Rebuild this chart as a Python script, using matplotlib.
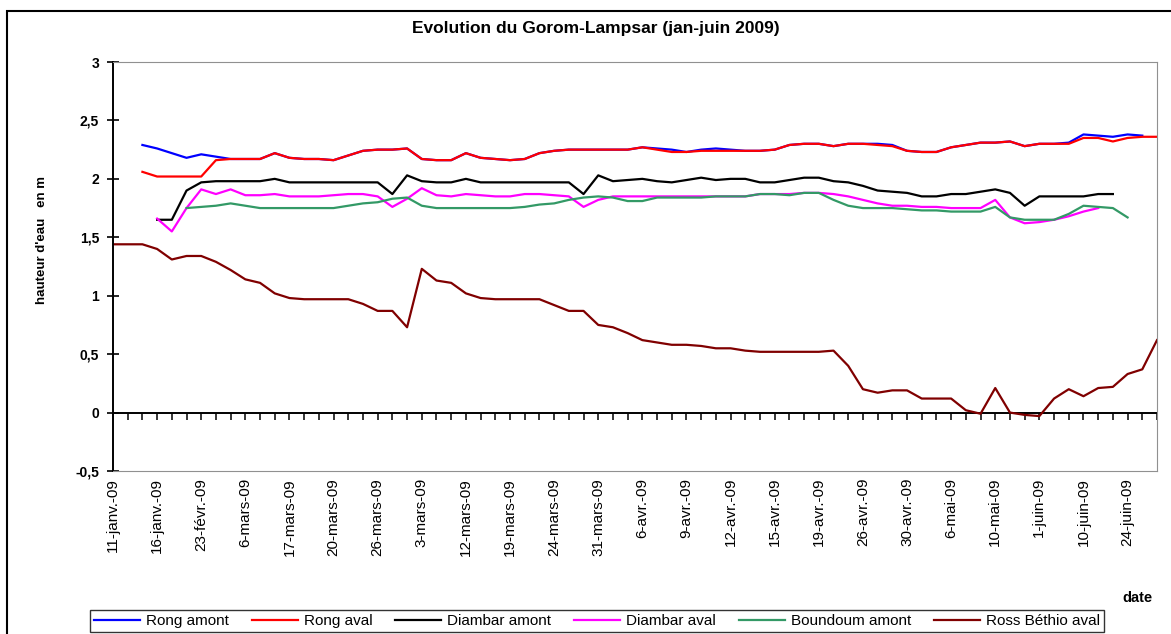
import numpy as np
import matplotlib
matplotlib.use("Agg")
import matplotlib.pyplot as plt
from matplotlib.patches import Rectangle

plt.rcParams['font.family'] = ['Liberation Sans', 'DejaVu Sans']

# dates en abscisse (une etiquette sur trois categories)
tick_labels = ['11-janv.-09', '16-janv.-09', '23-févr.-09', '6-mars-09', '17-mars-09',
               '20-mars-09', '26-mars-09', '3-mars-09', '12-mars-09', '19-mars-09',
               '24-mars-09', '31-mars-09', '6-avr.-09', '9-avr.-09', '12-avr.-09',
               '15-avr.-09', '19-avr.-09', '26-avr.-09', '30-avr.-09', '6-mai-09',
               '10-mai-09', '1-juin-09', '10-juin-09', '24-juin-09']
n_obs = 72

N = None
rong_amont = [N, N, 2.29, 2.26, 2.22, 2.18, 2.21, 2.19, 2.17, 2.17,
              2.17, 2.22, 2.18, 2.17, 2.17, 2.16, 2.20, 2.24, 2.25, 2.25,
              2.26, 2.17, 2.16, 2.16, 2.22, 2.18, 2.17, 2.16, 2.17, 2.22,
              2.24, 2.25, 2.25, 2.25, 2.25, 2.25, 2.27, 2.26, 2.25, 2.23,
              2.25, 2.26, 2.25, 2.24, 2.24, 2.25, 2.29, 2.30, 2.30, 2.28,
              2.30, 2.30, 2.30, 2.29, 2.24, 2.23, 2.23, 2.27, 2.29, 2.31,
              2.31, 2.32, 2.28, 2.30, 2.30, 2.31, 2.38, 2.37, 2.36, 2.38,
              2.37, N]
rong_aval = [N, N, 2.06, 2.02, 2.02, 2.02, 2.02, 2.16, 2.17, 2.17,
             2.17, 2.22, 2.18, 2.17, 2.17, 2.16, 2.20, 2.24, 2.25, 2.25,
             2.26, 2.17, 2.16, 2.16, 2.22, 2.18, 2.17, 2.16, 2.17, 2.22,
             2.24, 2.25, 2.25, 2.25, 2.25, 2.25, 2.27, 2.25, 2.23, 2.23,
             2.24, 2.24, 2.24, 2.24, 2.24, 2.25, 2.29, 2.30, 2.30, 2.28,
             2.30, 2.30, 2.29, 2.28, 2.24, 2.23, 2.23, 2.27, 2.29, 2.31,
             2.31, 2.32, 2.28, 2.30, 2.30, 2.30, 2.35, 2.35, 2.32, 2.35,
             2.36, 2.36]
diambar_amont = [N, N, N, 1.65, 1.65, 1.90, 1.97, 1.98, 1.98, 1.98,
                 1.98, 2.00, 1.97, 1.97, 1.97, 1.97, 1.97, 1.97, 1.97, 1.87,
                 2.03, 1.98, 1.97, 1.97, 2.00, 1.97, 1.97, 1.97, 1.97, 1.97,
                 1.97, 1.97, 1.87, 2.03, 1.98, 1.99, 2.00, 1.98, 1.97, 1.99,
                 2.01, 1.99, 2.00, 2.00, 1.97, 1.97, 1.99, 2.01, 2.01, 1.98,
                 1.97, 1.94, 1.90, 1.89, 1.88, 1.85, 1.85, 1.87, 1.87, 1.89,
                 1.91, 1.88, 1.77, 1.85, 1.85, 1.85, 1.85, 1.87, 1.87, N,
                 N, N]
diambar_aval = [N, N, N, 1.66, 1.55, 1.75, 1.91, 1.87, 1.91, 1.86,
                1.86, 1.87, 1.85, 1.85, 1.85, 1.86, 1.87, 1.87, 1.85, 1.76,
                1.83, 1.92, 1.86, 1.85, 1.87, 1.86, 1.85, 1.85, 1.87, 1.87,
                1.86, 1.85, 1.76, 1.82, 1.85, 1.85, 1.85, 1.85, 1.85, 1.85,
                1.85, 1.85, 1.85, 1.85, 1.87, 1.87, 1.87, 1.88, 1.88, 1.87,
                1.85, 1.82, 1.79, 1.77, 1.77, 1.76, 1.76, 1.75, 1.75, 1.75,
                1.82, 1.67, 1.62, 1.63, 1.65, 1.68, 1.72, 1.75, N, N,
                N, N]
boundoum_amont = [N, N, N, N, N, 1.75, 1.76, 1.77, 1.79, 1.77,
                  1.75, 1.75, 1.75, 1.75, 1.75, 1.75, 1.77, 1.79, 1.80, 1.83,
                  1.84, 1.77, 1.75, 1.75, 1.75, 1.75, 1.75, 1.75, 1.76, 1.78,
                  1.79, 1.82, 1.84, 1.85, 1.84, 1.81, 1.81, 1.84, 1.84, 1.84,
                  1.84, 1.85, 1.85, 1.85, 1.87, 1.87, 1.86, 1.88, 1.88, 1.82,
                  1.77, 1.75, 1.75, 1.75, 1.74, 1.73, 1.73, 1.72, 1.72, 1.72,
                  1.76, 1.67, 1.65, 1.65, 1.65, 1.70, 1.77, 1.76, 1.75, 1.67,
                  N, N]
ross_bethio_aval = [1.44, 1.44, 1.44, 1.40, 1.31, 1.34, 1.34, 1.29, 1.22, 1.14,
                    1.11, 1.02, 0.98, 0.97, 0.97, 0.97, 0.97, 0.93, 0.87, 0.87,
                    0.73, 1.23, 1.13, 1.11, 1.02, 0.98, 0.97, 0.97, 0.97, 0.97,
                    0.92, 0.87, 0.87, 0.75, 0.73, 0.68, 0.62, 0.60, 0.58, 0.58,
                    0.57, 0.55, 0.55, 0.53, 0.52, 0.52, 0.52, 0.52, 0.52, 0.53,
                    0.40, 0.20, 0.17, 0.19, 0.19, 0.12, 0.12, 0.12, 0.02, -0.01,
                    0.21, 0.00, -0.02, -0.03, 0.12, 0.20, 0.14, 0.21, 0.22, 0.33,
                    0.37, 0.62]

series = [("Rong amont", rong_amont, "#0000ff"),
          ("Rong aval", rong_aval, "#ff0000"),
          ("Diambar amont", diambar_amont, "#000000"),
          ("Diambar aval", diambar_aval, "#ff00ff"),
          ("Boundoum amont", boundoum_amont, "#339966"),
          ("Ross Béthio aval", ross_bethio_aval, "#800000")]

W, H = 1171, 634
fig = plt.figure(figsize=(W / 100, H / 100), dpi=100)
ax = fig.add_axes([113 / W, 1 - 471 / H, 1044 / W, 409 / H])

x = np.arange(n_obs)
for name, vals, col in series:
    ax.plot(x, np.array(vals, dtype=float), color=col, lw=1.6, label=name)

ax.set_xlim(0, n_obs - 1)
ax.set_ylim(-0.5, 3)
ax.set_yticks(np.arange(-0.5, 3.01, 0.5))
ax.set_yticklabels(['-0,5', '0', '0,5', '1', '1,5', '2', '2,5', '3'],
                   fontsize=10, fontweight='bold')
ax.tick_params(axis='y', direction='inout', length=8, width=1.2, pad=6)

ax.set_xticks(np.arange(0, n_obs, 3))
ax.set_xticklabels(tick_labels, rotation=90, fontsize=11, va='top')
ax.tick_params(axis='x', length=0, pad=5)

for side in ['top', 'right', 'bottom']:
    ax.spines[side].set_color('#909090')
ax.spines['left'].set_linewidth(1.4)

# axe des categories qui passe par zero
sec = ax.secondary_xaxis(0.5 / 3.5)
sec.set_xticks(x)
sec.set_xticklabels([])
sec.tick_params(direction='out', length=5, width=1.1)
sec.spines['bottom'].set_linewidth(1.4)

fig.text(596 / W, 1 - 28 / H, "Evolution du Gorom-Lampsar (jan-juin 2009)",
         ha='center', va='center', fontsize=12.5, fontweight='bold')
fig.text(42 / W, 1 - 240 / H, "hauteur d'eau   en m", rotation=90,
         ha='center', va='center', fontsize=9.5, fontweight='bold')
fig.text(1137 / W, 1 - 598 / H, "date", ha='center', va='center',
         fontsize=10.5, fontweight='bold')

fig.legend(loc='center', bbox_to_anchor=(597 / W, 1 - 621 / H), ncol=6,
           fontsize=11, frameon=True, fancybox=False, edgecolor='black',
           handlelength=3.0, handletextpad=0.4, columnspacing=1.5,
           borderpad=0.25, borderaxespad=0)

fig.patches.append(Rectangle((7 / W, -0.05), 1.1, 1 - 11 / H + 0.05,
                             transform=fig.transFigure, fill=False,
                             edgecolor='black', lw=1.5))

fig.savefig('out.png', dpi=100)
